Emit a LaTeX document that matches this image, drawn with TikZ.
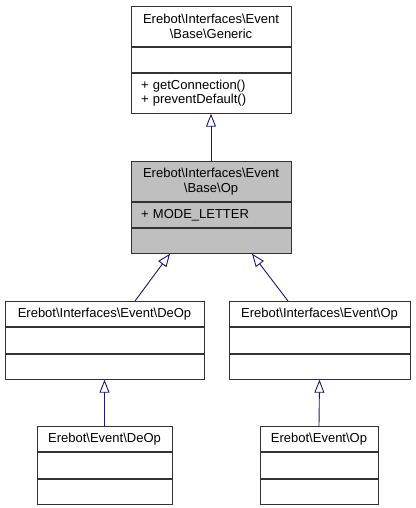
\documentclass[tikz,border=0pt]{standalone}
\usepackage{fontspec}
\setmainfont{Liberation Sans}
\usetikzlibrary{arrows.meta,positioning}
\definecolor{inhblue}{HTML}{191970}
\definecolor{curgrey}{HTML}{BFBFBF}
\definecolor{boxedge}{HTML}{333333}
\newcommand{\nsep}{\textbackslash}

\begin{document}
\begin{tikzpicture}[x=1pt,y=1pt,font=\fontsize{13}{14.5}\selectfont,
  box/.style={draw=boxedge,line width=0.9pt,inner sep=0pt,anchor=north},
  title/.style={box,align=center,minimum width=#1,minimum height=25pt},
  mem/.style={box,align=left,inner xsep=10pt,text width=#1,minimum height=25pt},
  inh/.style={draw=inhblue,line width=0.9pt,-{Triangle[open,length=13pt,width=10pt]}}]
\useasboundingbox (0,0) rectangle (415,-508);
% base classes
\node[title=160pt,minimum height=40pt] (gen) at (211,-6)
     {Erebot\nsep Interfaces\nsep Event\\\nsep Base\nsep Generic};
\node[mem=140pt,below=0pt of gen] (gen-a) {};
\node[mem=140pt,minimum height=40pt,below=0pt of gen-a] (gen-m)
     {+ getConnection()\\+ preventDefault()};
\node[title=160pt,minimum height=40pt,fill=curgrey] (baseop) at (211,-161)
     {Erebot\nsep Interfaces\nsep Event\\\nsep Base\nsep Op};
\node[mem=140pt,fill=curgrey,below=0pt of baseop] (baseop-a) {+ MODE\_LETTER};
\node[mem=140pt,fill=curgrey,below=0pt of baseop-a] (baseop-m) {};
% interfaces
\node[title=199pt] (ideop) at (104.5,-301) {Erebot\nsep Interfaces\nsep Event\nsep DeOp};
\node[mem=179pt,minimum height=26pt,below=0pt of ideop] (ideop-a) {};
\node[mem=179pt,below=0pt of ideop-a] (ideop-m) {};
\node[title=181pt] (iop) at (319.5,-301) {Erebot\nsep Interfaces\nsep Event\nsep Op};
\node[mem=161pt,minimum height=26pt,below=0pt of iop] (iop-a) {};
\node[mem=161pt,below=0pt of iop-a] (iop-m) {};
% implementations
\node[title=135pt] (edeop) at (104.5,-426) {Erebot\nsep Event\nsep DeOp};
\node[mem=115pt,minimum height=26pt,below=0pt of edeop] (edeop-a) {};
\node[mem=115pt,below=0pt of edeop-a] (edeop-m) {};
\node[title=118pt] (eop) at (319,-426) {Erebot\nsep Event\nsep Op};
\node[mem=98pt,minimum height=26pt,below=0pt of eop] (eop-a) {};
\node[mem=98pt,below=0pt of eop-a] (eop-m) {};
% inheritance
\draw[inh] (baseop.north) -- (gen-m.south);
\draw[inh] ([xshift=30.5pt]ideop.north) -- ([xshift=-41pt]baseop-m.south);
\draw[inh] ([xshift=-31.5pt]iop.north) -- ([xshift=41pt]baseop-m.south);
\draw[inh] (edeop.north) -- (ideop-m.south);
\draw[inh] (eop.north) -- (iop-m.south);
\end{tikzpicture}
\end{document}
